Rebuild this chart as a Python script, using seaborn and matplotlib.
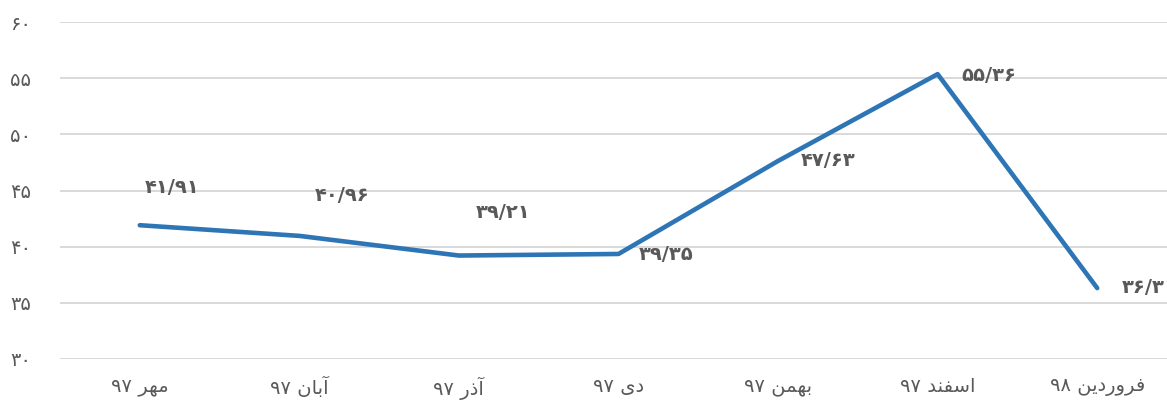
import matplotlib
matplotlib.use("Agg")
import matplotlib.pyplot as plt
import seaborn as sns
import pandas as pd

# data
months = ["مهر ۹۷", "آبان ۹۷", "آذر ۹۷", "دی ۹۷", "بهمن ۹۷", "اسفند ۹۷", "فروردین ۹۸"]
values = [41.91, 40.96, 39.21, 39.35, 47.63, 55.36, 36.31]
y_ticks = [30, 35, 40, 45, 50, 55, 60]

# label offsets from each point, in pixels (right, up)
label_offsets = [(32, 38), (43, 40), (44, 43), (48, -1), (50, 0), (51, -1), (52, 1)]

FA_DIGITS = str.maketrans("0123456789.", "۰۱۲۳۴۵۶۷۸۹/")

# presentation forms: isolated, final, initial, medial
JOIN = {
    "ا": (0xFE8D, 0xFE8E, None, None),
    "آ": (0xFE81, 0xFE82, None, None),
    "ب": (0xFE8F, 0xFE90, 0xFE91, 0xFE92),
    "د": (0xFEA9, 0xFEAA, None, None),
    "ذ": (0xFEAB, 0xFEAC, None, None),
    "ر": (0xFEAD, 0xFEAE, None, None),
    "س": (0xFEB1, 0xFEB2, 0xFEB3, 0xFEB4),
    "ف": (0xFED1, 0xFED2, 0xFED3, 0xFED4),
    "م": (0xFEE1, 0xFEE2, 0xFEE3, 0xFEE4),
    "ن": (0xFEE5, 0xFEE6, 0xFEE7, 0xFEE8),
    "ه": (0xFEE9, 0xFEEA, 0xFEEB, 0xFEEC),
    "و": (0xFEED, 0xFEEE, None, None),
    "ی": (0xFEEF, 0xFEF0, 0xFEF3, 0xFEF4),
}


def shape_word(word):
    """Join Persian letters by hand and return them in visual (LTR) order."""
    out = []
    for i, ch in enumerate(word):
        forms = JOIN.get(ch)
        if forms is None:
            out.append(ch)
            continue
        prev = word[i - 1] if i > 0 else None
        nxt = word[i + 1] if i + 1 < len(word) else None
        join_prev = prev in JOIN and JOIN[prev][2] is not None
        join_next = nxt in JOIN and forms[2] is not None
        iso, fin, ini, med = forms
        if join_prev and join_next:
            code = med
        elif join_prev:
            code = fin
        elif join_next:
            code = ini
        else:
            code = iso
        out.append(chr(code))
    return "".join(reversed(out))


def visual_label(text):
    word, num = text.split(" ")
    return num + " " + shape_word(word)


def fa_number(v):
    return f"{v:.2f}".translate(FA_DIGITS)


sns.set_style("white")
plt.rcParams["font.family"] = ["DejaVu Sans"]

df = pd.DataFrame({"month": [visual_label(m) for m in months], "value": values})

fig = plt.figure(figsize=(11.67, 4.05), dpi=100)
ax = fig.add_axes([60 / 1167, 46 / 405, 1117 / 1167, 337 / 405])

sns.lineplot(data=df, x="month", y="value", ax=ax, color="#2E75B6",
             linewidth=3.3, sort=False, zorder=3)

ax.set_ylim(30, 60)
ax.set_xlim(-0.5, len(months) - 0.5)
ax.set_yticks(y_ticks)
ax.set_yticklabels([str(t).translate(FA_DIGITS) for t in y_ticks])
ax.yaxis.grid(True, color="#D9D9D9", linewidth=1.4)
ax.xaxis.grid(False)
for s in ax.spines.values():
    s.set_visible(False)
ax.tick_params(axis="both", length=0, labelsize=14, colors="#595959")
ax.tick_params(axis="x", pad=13)
ax.tick_params(axis="y", pad=36)
for lbl in ax.get_yticklabels():
    lbl.set_horizontalalignment("left")
ax.set_xlabel("")
ax.set_ylabel("")

for i, v in enumerate(values):
    dx, dy = label_offsets[i]
    ax.annotate(fa_number(v), (i, v), xytext=(dx, dy), textcoords="offset pixels",
                ha="center", va="center", fontsize=14, fontweight="bold",
                color="#595959", annotation_clip=False)

fig.savefig("out.png", dpi=100)
